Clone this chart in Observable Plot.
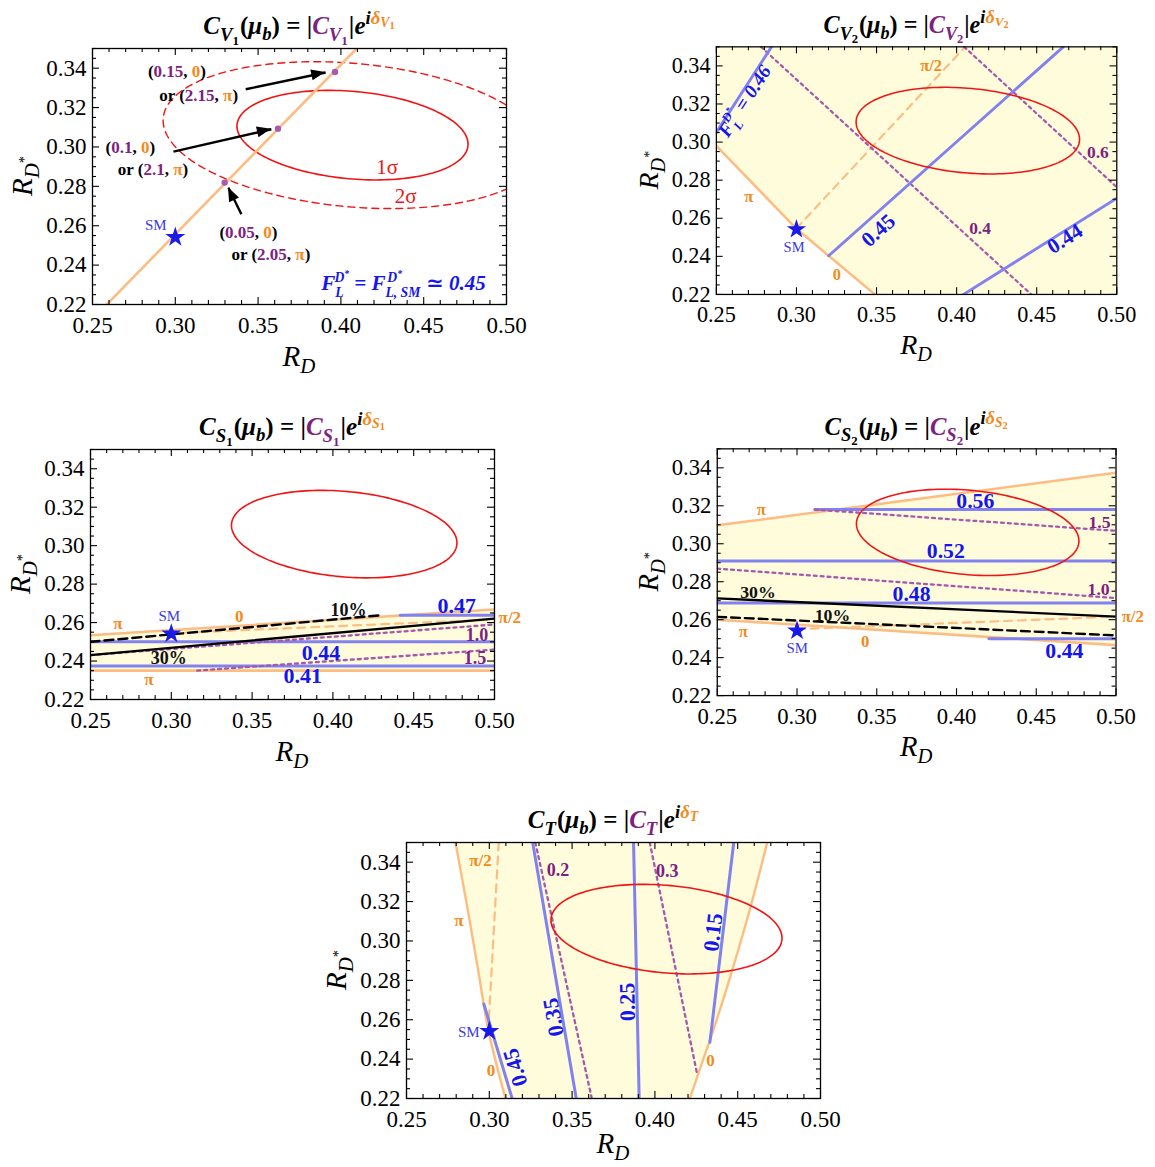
<!DOCTYPE html>
<html><head><meta charset="utf-8">
<script src="https://cdn.jsdelivr.net/npm/d3@7"></script>
<script src="https://cdn.jsdelivr.net/npm/@observablehq/plot@0.6"></script>
<style>
html,body{margin:0;padding:0;background:#fff;width:1155px;height:1167px;overflow:hidden;}
#root{position:relative;width:1155px;height:1167px;overflow:hidden;font-family:'Liberation Serif','DejaVu Serif',serif;}
.panel{position:absolute;}
.panel svg text{font-family:'Liberation Serif','DejaVu Serif',serif;}
</style></head><body><div id="root"></div>
<script>
// ---------- axes ----------
const xTicks = [0.25, 0.30, 0.35, 0.40, 0.45, 0.50];
const yTicks = [0.22, 0.24, 0.26, 0.28, 0.30, 0.32, 0.34];

// ---------- common data ----------
const smPoint = [{RD: 0.300, RDs: 0.2542}];
const expAvg = [{RD: 0.407, errRD: 0.046, RDs: 0.306, errRDs: 0.015, rho: -0.20}];
const clLevels = [{label: "1σ", dchi2: 2.30}, {label: "2σ", dchi2: 6.18}];

// ---------- C_V1 ----------
const v1Line = [{RD: 0.2586, RDs: 0.22}, {RD: 0.4095, RDs: 0.35}];
const v1Dots = [{RD: 0.3298, RDs: 0.2819}, {RD: 0.3620, RDs: 0.3093}, {RD: 0.3964, RDs: 0.3381}];
const v1Arrows = [
  {x1: 0.3425, y1: 0.3293, x2: 0.3908, y2: 0.3378},
  {x1: 0.2989, y1: 0.2976, x2: 0.3580, y2: 0.3090},
  {x1: 0.3399, y1: 0.2658, x2: 0.3321, y2: 0.2793}
];
const v1Coords = [
  {RD: 0.3013, RDs: 0.3381, pre: "(", mag: "0.15", phase: "0"},
  {RD: 0.3144, RDs: 0.3263, pre: "or (", mag: "2.15", phase: "π"},
  {RD: 0.2731, RDs: 0.2997, pre: "(", mag: "0.1", phase: "0"},
  {RD: 0.2868, RDs: 0.2888, pre: "or (", mag: "2.1", phase: "π"},
  {RD: 0.3445, RDs: 0.2568, pre: "(", mag: "0.05", phase: "0"},
  {RD: 0.3580, RDs: 0.2454, pre: "or (", mag: "2.05", phase: "π"}
];
const v1SigmaLabels = [{RD: 0.4280, RDs: 0.2895, t: "1σ"}, {RD: 0.4391, RDs: 0.2751, t: "2σ"}];
const v1SM = [{RD: 0.2882, RDs: 0.2605}];
const v1FLNote = [{RD: 0.4381, RDs: 0.2305}];

// ---------- C_V2 ----------
const v2Boundary = [{RD: 0.25, RDs: 0.298}, {RD: 0.2999, RDs: 0.2546}, {RD: 0.3201, RDs: 0.2403}, {RD: 0.349, RDs: 0.22}];
const v2Corner = [{RD: 0.50, RDs: 0.22}];
const v2Phase = [{RD: 0.2999, RDs: 0.2546}, {RD: 0.4053, RDs: 0.35}];
const v2FL = [
  {level: "0.46", RD: 0.25, RDs: 0.3051}, {level: "0.46", RD: 0.2844, RDs: 0.35},
  {level: "0.45", RD: 0.3201, RDs: 0.2403}, {level: "0.45", RD: 0.4666, RDs: 0.35},
  {level: "0.44", RD: 0.4043, RDs: 0.22}, {level: "0.44", RD: 0.50, RDs: 0.2705}
];
const v2Mag = [
  {level: "0.4", RD: 0.2778, RDs: 0.35}, {level: "0.4", RD: 0.4466, RDs: 0.22},
  {level: "0.6", RD: 0.4047, RDs: 0.35}, {level: "0.6", RD: 0.50, RDs: 0.2763}
];
const v2PhaseLabels = [{RD: 0.3841, RDs: 0.3403, t: "π/2"}, {RD: 0.2702, RDs: 0.2712, t: "π"}, {RD: 0.3253, RDs: 0.2305, t: "0"}];
const v2MagLabels = [{RD: 0.4146, RDs: 0.2547, t: "0.4"}, {RD: 0.4882, RDs: 0.2946, t: "0.6"}];
const v2FLLabels = [{RD: 0.3511, RDs: 0.2536, level: "0.45"}, {RD: 0.4676, RDs: 0.2492, level: "0.44"}];
const v2FLNote = [{RD: 0.2712, RDs: 0.3225, level: "0.46"}];
const v2SM = [{RD: 0.2985, RDs: 0.2446}];

// ---------- C_S1 ----------
const s1Band = [{RD: 0.25, lo: 0.2350, hi: 0.2534}, {RD: 0.50, lo: 0.2350, hi: 0.2668}];
const s1FL = [
  {level: "0.47", RD: 0.4417, RDs: 0.2638}, {level: "0.47", RD: 0.50, RDs: 0.2638},
  {level: "0.44", RD: 0.25, RDs: 0.2500}, {level: "0.44", RD: 0.50, RDs: 0.2500},
  {level: "0.41", RD: 0.25, RDs: 0.2374}, {level: "0.41", RD: 0.50, RDs: 0.2374}
];
const s1Frac10 = [{RD: 0.25, RDs: 0.2500}, {RD: 0.4293, RDs: 0.2638}];
const s1Frac30 = [{RD: 0.25, RDs: 0.2431}, {RD: 0.50, RDs: 0.2621}];
const s1Mag = [
  {level: "1.0", RD: 0.25, RDs: 0.2431}, {level: "1.0", RD: 0.50, RDs: 0.2590},
  {level: "1.5", RD: 0.316, RDs: 0.2350}, {level: "1.5", RD: 0.50, RDs: 0.2460}
];
const s1Phase = [{RD: 0.300, RDs: 0.2545}, {RD: 0.50, RDs: 0.2616}];
const s1PhaseLabels = [{RD: 0.2669, RDs: 0.2597, t: "π"}, {RD: 0.3421, RDs: 0.2632, t: "0"}, {RD: 0.5095, RDs: 0.2628, t: "π/2"}, {RD: 0.2861, RDs: 0.2302, t: "π"}];
const s1MagLabels = [{RD: 0.4891, RDs: 0.2533, t: "1.0"}, {RD: 0.4880, RDs: 0.2412, t: "1.5"}];
const s1FLLabels = [{RD: 0.4767, RDs: 0.2689, t: "0.47"}, {RD: 0.3926, RDs: 0.2443, t: "0.44"}, {RD: 0.3813, RDs: 0.2320, t: "0.41"}];
const s1FracLabels = [{RD: 0.4097, RDs: 0.2666, t: "10%"}, {RD: 0.2984, RDs: 0.2412, t: "30%"}];
const s1SM = [{RD: 0.2988, RDs: 0.2632}];

// ---------- C_S2 ----------
const s2Band = [{RD: 0.25, lo: 0.2600, hi: 0.3097}, {RD: 0.50, lo: 0.2466, hi: 0.3374}];
const s2FL = [
  {level: "0.56", RD: 0.3112, RDs: 0.3180}, {level: "0.56", RD: 0.50, RDs: 0.3180},
  {level: "0.52", RD: 0.25, RDs: 0.2909}, {level: "0.52", RD: 0.50, RDs: 0.2909},
  {level: "0.48", RD: 0.25, RDs: 0.2688}, {level: "0.48", RD: 0.50, RDs: 0.2688},
  {level: "0.44", RD: 0.4203, RDs: 0.2500}, {level: "0.44", RD: 0.50, RDs: 0.2500}
];
const s2Frac30 = [{RD: 0.25, RDs: 0.2712}, {RD: 0.50, RDs: 0.2616}];
const s2Frac10 = [{RD: 0.25, RDs: 0.2615}, {RD: 0.50, RDs: 0.2517}];
const s2Mag = [
  {level: "1.5", RD: 0.3112, RDs: 0.3180}, {level: "1.5", RD: 0.50, RDs: 0.3068},
  {level: "1.0", RD: 0.25, RDs: 0.2869}, {level: "1.0", RD: 0.50, RDs: 0.2714}
];
const s2Phase = [{RD: 0.300, RDs: 0.2550}, {RD: 0.50, RDs: 0.2616}];
const s2PhaseLabels = [{RD: 0.2776, RDs: 0.3180, t: "π"}, {RD: 0.5105, RDs: 0.2615, t: "π/2"}, {RD: 0.2664, RDs: 0.2535, t: "π"}, {RD: 0.3428, RDs: 0.2484, t: "0"}];
const s2MagLabels = [{RD: 0.4897, RDs: 0.3111, t: "1.5"}, {RD: 0.4891, RDs: 0.2760, t: "1.0"}];
const s2FLLabels = [{RD: 0.4118, RDs: 0.3224, t: "0.56"}, {RD: 0.3933, RDs: 0.2961, t: "0.52"}, {RD: 0.3718, RDs: 0.2734, t: "0.48"}, {RD: 0.4676, RDs: 0.2437, t: "0.44"}];
const s2FracLabels = [{RD: 0.2755, RDs: 0.2745, t: "30%"}, {RD: 0.3222, RDs: 0.2624, t: "10%"}];
const s2SM = [{RD: 0.3001, RDs: 0.2451}];

// ---------- C_T ----------
const tBand = [
  {RDs: 0.35, left: 0.2796, right: 0.4678},
  {RDs: 0.3171, left: 0.2867, right: 0.4577},
  {RDs: 0.284, left: 0.2935, right: 0.4463},
  {RDs: 0.255, left: 0.2993, right: 0.4354},
  {RDs: 0.2358, left: 0.3048, right: 0.4275},
  {RDs: 0.22, left: 0.3098, right: 0.4211}
];
const tPhase = [{RD: 0.3057, RDs: 0.35}, {RD: 0.2997, RDs: 0.2595}];
const tFL = [
  {level: "0.45", RD: 0.2967, RDs: 0.2680}, {level: "0.45", RD: 0.3138, RDs: 0.22},
  {level: "0.35", RD: 0.3262, RDs: 0.35}, {level: "0.35", RD: 0.3525, RDs: 0.22},
  {level: "0.25", RD: 0.3871, RDs: 0.35}, {level: "0.25", RD: 0.3905, RDs: 0.22},
  {level: "0.15", RD: 0.4476, RDs: 0.35}, {level: "0.15", RD: 0.4332, RDs: 0.2485}
];
const tMag = [
  {level: "0.2", RD: 0.3278, RDs: 0.35}, {level: "0.2", RD: 0.3619, RDs: 0.22},
  {level: "0.3", RD: 0.3969, RDs: 0.35}, {level: "0.3", RD: 0.4255, RDs: 0.2324}
];
const tPhaseLabels = [{RD: 0.2947, RDs: 0.3409, t: "π/2"}, {RD: 0.2816, RDs: 0.3104, t: "π"}, {RD: 0.3011, RDs: 0.2341, t: "0"}, {RD: 0.4336, RDs: 0.2392, t: "0"}];
const tMagLabels = [{RD: 0.3415, RDs: 0.3358, t: "0.2"}, {RD: 0.4074, RDs: 0.3355, t: "0.3"}];
const tFLLabels = [{RD: 0.3158, RDs: 0.2358, level: "0.45"}, {RD: 0.3388, RDs: 0.2613, level: "0.35"}, {RD: 0.3835, RDs: 0.2690, level: "0.25"}, {RD: 0.4352, RDs: 0.3044, level: "0.15"}];
const tSM = [{RD: 0.2876, RDs: 0.2536}];

// ---------- styling ----------
const SERIF = "Liberation Serif, DejaVu Serif, serif";
const ORANGE_LINE = "#fdbd82", ORANGE_TXT = "#f38a1a";
const BLUE_LINE = "#8181ef", BLUE_TXT = "#1515ee", SM_TXT = "#3a3ae6", STAR = "#1a1ae8";
const PURPLE_LINE = "#a558ad", PURPLE_TXT = "#7e1f82", PURPLE_DOT = "#a65bb0";
const RED = "#f01515", YELLOW = "#fffcdb";
const M = {l: 95, r: 40, t: 50, b: 75};
const X0 = 0.25, X1 = 0.50, Y0 = 0.22, Y1 = 0.35;

const xMinor = d3.range(25, 51).map(i => i / 100).filter(v => !xTicks.some(t => Math.abs(t - v) < 1e-9));
const yMinor = d3.range(44, 71).map(i => i / 200).filter(v => !yTicks.some(t => Math.abs(t - v) < 1e-9));

function ellipse(dchi2) {
  const e = expAvg[0], s = Math.sqrt(dchi2);
  return d3.range(0, 360, 2).map(a => {
    const t = a * Math.PI / 180;
    return {RD: e.RD + s * e.errRD * Math.cos(t),
            RDs: e.RDs + s * e.errRDs * (e.rho * Math.cos(t) + Math.sqrt(1 - e.rho * e.rho) * Math.sin(t))};
  });
}
function angleOf(lines, level, W, H, flip) {
  const [a, b] = lines.filter(d => d.level === level);
  const dx = (b.RD - a.RD) / (X1 - X0) * W, dy = -(b.RDs - a.RDs) / (Y1 - Y0) * H;
  const ang = Math.atan2(dy, dx) * 180 / Math.PI;
  return flip ? ang - 180 : ang;
}
function rich(sel, x, y, segs, {size = 16, anchor = "middle", rotate = 0, weight = "bold", style = "normal", fill = "#000"} = {}) {
  const t = sel.append("text")
    .attr("transform", `translate(${x},${y}) rotate(${rotate})`)
    .attr("text-anchor", anchor).attr("font-family", SERIF)
    .attr("font-size", size).attr("font-weight", weight).attr("font-style", style).attr("fill", fill)
    .style("white-space", "pre");
  let cur = 0;
  for (const [txt, o = {}] of segs) {
    const off = (o.off ?? 0) * size;
    const sp = t.append("tspan").attr("dy", off - cur).text(txt);
    cur = off;
    if (o.dx) sp.attr("dx", o.dx);
    if (o.scale) sp.attr("font-size", size * o.scale);
    if (o.style) sp.attr("font-style", o.style);
    if (o.weight) sp.attr("font-weight", o.weight);
    if (o.fill) sp.attr("fill", o.fill);
  }
  return t;
}
function titleSegs(L, sub) {
  const it = {style: "italic"};
  const s = [["C", it], [L, {off: 0.28, scale: 0.75, style: "italic"}]];
  if (sub) s.push([sub, {off: 0.42, scale: 0.52}]);
  s.push(["(", {dx: 1}], ["μ", it], ["b", {off: 0.25, scale: 0.75, style: "italic"}], [") = |", {}],
         ["C", {style: "italic", fill: PURPLE_TXT}], [L, {off: 0.28, scale: 0.75, style: "italic", fill: PURPLE_TXT}]);
  if (sub) s.push([sub, {off: 0.42, scale: 0.52, fill: PURPLE_TXT}]);
  s.push(["|", {dx: 1}], ["e", it], ["i", {off: -0.42, scale: 0.75, style: "italic"}],
         ["δ", {off: -0.42, scale: 0.75, style: "italic", fill: ORANGE_TXT}],
         [L, {off: -0.3, scale: 0.55, style: "italic", fill: ORANGE_TXT}]);
  if (sub) s.push([sub, {off: -0.22, scale: 0.42, fill: ORANGE_TXT}]);
  return s;
}
const FLsegs = (k) => [["F", {}], ["L", {off: 0.3, scale: 0.65}], ["D", {off: -0.42, scale: 0.65, dx: -8 * k}], ["*", {off: -0.62, scale: 0.45}]];

function frameTicks(W, H) {
  const k = {stroke: "#000", strokeWidth: 1.1};
  return [
    Plot.tickX(xTicks, {x: d => d, insetTop: H - 7, ...k}),
    Plot.tickX(xTicks, {x: d => d, insetBottom: H - 7, ...k}),
    Plot.tickX(xMinor, {x: d => d, insetTop: H - 4, ...k}),
    Plot.tickX(xMinor, {x: d => d, insetBottom: H - 4, ...k}),
    Plot.tickY(yTicks, {y: d => d, insetRight: W - 7, ...k}),
    Plot.tickY(yTicks, {y: d => d, insetLeft: W - 7, ...k}),
    Plot.tickY(yMinor, {y: d => d, insetRight: W - 4, ...k}),
    Plot.tickY(yMinor, {y: d => d, insetLeft: W - 4, ...k}),
    Plot.frame({stroke: "#000", strokeWidth: 1.3}),
    Plot.axisX(xTicks, {tickSize: 0, tickPadding: 12, tickFormat: d3.format(".2f"), fontSize: 23, fontFamily: SERIF, label: null}),
    Plot.axisY(yTicks, {tickSize: 0, tickPadding: 6, tickFormat: d3.format(".2f"), fontSize: 23, fontFamily: SERIF, label: null})
  ];
}
const lineOpts = {x: "RD", y: "RDs", clip: true};
const TXT = {x: "RD", y: "RDs", fontFamily: SERIF};
const ell1 = () => Plot.line(ellipse(clLevels[0].dchi2), {...lineOpts, stroke: RED, strokeWidth: 1.6, curve: "linear-closed"});
const star = (data) => Plot.dot(data, {x: "RD", y: "RDs", symbol: "star", r: 6.3, fill: STAR, stroke: "none"});
const smText = (data) => Plot.text(data, {...TXT, text: () => "SM", fill: SM_TXT, fontSize: 15});
const phaseText = (data) => Plot.text(data, {...TXT, text: "t", fill: ORANGE_TXT, fontSize: 17, fontWeight: "bold"});
const magText = (data) => Plot.text(data, {...TXT, text: "t", fill: PURPLE_TXT, fontSize: 18, fontWeight: "bold"});
const flText = (data, extra = {}) => Plot.text(data, {...TXT, text: "t", fill: BLUE_TXT, fontSize: 22, fontWeight: "bold", ...extra});
const fracText = (data) => Plot.text(data, {...TXT, text: "t", fill: "#111", fontSize: 18, fontWeight: "bold"});
const magLine = (data) => Plot.line(data, {...lineOpts, z: "level", stroke: PURPLE_LINE, strokeWidth: 2.3, strokeDasharray: "3,4"});
const flLine = (data) => Plot.line(data, {...lineOpts, z: "level", stroke: BLUE_LINE, strokeWidth: 3});
const phaseDash = (data) => Plot.line(data, {...lineOpts, stroke: ORANGE_LINE, strokeWidth: 2.2, strokeDasharray: "8,6"});

const root = document.getElementById("root");
function build(p) {
  const {W, H} = p;
  const plot = Plot.plot({
    width: M.l + W + M.r, height: M.t + H + M.b,
    marginLeft: M.l, marginRight: M.r, marginTop: M.t, marginBottom: M.b,
    x: {domain: [X0, X1], axis: null}, y: {domain: [Y0, Y1], axis: null},
    style: {fontFamily: SERIF, background: "transparent", overflow: "visible", color: "#000"},
    marks: [...p.marks, ...frameTicks(W, H)]
  });
  const svg = d3.select(plot);
  const X = plot.scale("x"), Y = plot.scale("y");
  const g = svg.append("g");
  rich(g, M.l + W / 2, M.t - 14, titleSegs(p.L, p.sub), {size: 25, style: "normal"});
  rich(g, M.l + W / 2, M.t + H + (p.xLabelDy ?? 62), [["R", {style: "italic"}], ["D", {off: 0.25, scale: 0.72, style: "italic"}]], {size: 29, weight: "normal"});
  rich(g, M.l - 60, M.t + H / 2, [["R", {style: "italic"}], ["D", {off: 0.25, scale: 0.72, style: "italic"}], ["*", {off: -0.12, scale: 0.5}]], {size: 29, weight: "normal", rotate: -90});
  if (p.extra) p.extra(g, X, Y, W, H);
  const div = document.createElement("div");
  div.className = "panel";
  div.style.left = (p.fx - M.l) + "px";
  div.style.top = (p.fy - M.t) + "px";
  div.appendChild(plot);
  root.appendChild(div);
}

// Panel 1: C_V1
build({
  W: 414, H: 256, fx: 92, fy: 47.5, L: "V", sub: "1",
  marks: [
    Plot.line(ellipse(clLevels[1].dchi2), {...lineOpts, stroke: RED, strokeWidth: 1.4, strokeDasharray: "7,5", curve: "linear-closed"}),
    ell1(),
    Plot.line(v1Line, {...lineOpts, stroke: ORANGE_LINE, strokeWidth: 2.6}),
    Plot.link(v1Arrows, {x1: "x1", y1: "y1", x2: "x2", y2: "y2", stroke: "#000", strokeWidth: 2.4}),
    Plot.dot(v1Dots, {x: "RD", y: "RDs", r: 3.2, fill: PURPLE_DOT, stroke: "none"}),
    star(smPoint), smText(v1SM),
    Plot.text(v1SigmaLabels, {...TXT, text: "t", fill: RED, fontSize: 21})
  ],
  extra: (g, X, Y) => {
    // filled arrow heads, positioned through the plot's scales
    for (const a of v1Arrows) {
      const px1 = X.apply(a.x1), py1 = Y.apply(a.y1), px2 = X.apply(a.x2), py2 = Y.apply(a.y2);
      const ang = Math.atan2(py2 - py1, px2 - px1), L = 14, Wd = 5.5;
      const bx = px2 - L * Math.cos(ang), by = py2 - L * Math.sin(ang);
      const nx = -Math.sin(ang) * Wd, ny = Math.cos(ang) * Wd;
      g.append("path").attr("d", `M${px2},${py2}L${bx + nx},${by + ny}L${bx - nx},${by - ny}Z`).attr("fill", "#000");
    }
    for (const c of v1Coords) {
      rich(g, X.apply(c.RD), Y.apply(c.RDs) + 6, [[c.pre, {}], [c.mag, {fill: PURPLE_TXT}], [", ", {}], [c.phase, {fill: ORANGE_TXT}], [")", {}]], {size: 17});
    }
    const n = v1FLNote[0];
    rich(g, X.apply(n.RD), Y.apply(n.RDs) + 7, [...FLsegs(1.15), [" = F", {}], ["L, SM", {off: 0.3, scale: 0.65}], ["D", {off: -0.42, scale: 0.65, dx: -33}], ["*", {off: -0.62, scale: 0.45}], [" ≃ 0.45", {dx: 19}]], {size: 21, style: "italic", fill: BLUE_TXT});
  }
});

// Panel 2: C_V2
build({
  W: 414, H: 256, fx: 719, fy: 47.5, L: "V", sub: "2",
  marks: [
    Plot.areaY([...v2Boundary, ...v2Corner], {x: "RD", y1: "RDs", y2: () => Y1, fill: YELLOW}),
    Plot.line(v2Boundary, {...lineOpts, stroke: ORANGE_LINE, strokeWidth: 2.6}),
    phaseDash(v2Phase),
    magLine(v2Mag),
    flLine(v2FL),
    ell1(),
    star(smPoint), smText(v2SM),
    phaseText(v2PhaseLabels), magText(v2MagLabels),
    flText(v2FLLabels, {text: "level", rotate: d => angleOf(v2FL, d.level, 414, 256, false)})
  ],
  extra: (g, X, Y, W, H) => {
    const n = v2FLNote[0];
    rich(g, X.apply(n.RD), Y.apply(n.RDs) + 6, [...FLsegs(1), [" = 0.46", {}]], {size: 20, style: "italic", fill: BLUE_TXT, rotate: angleOf(v2FL, n.level, W, H, false)});
  }
});

// Panel 3: C_S1
build({
  W: 404, H: 250, fx: 90, fy: 449, L: "S", sub: "1",
  marks: [
    Plot.areaY(s1Band, {x: "RD", y1: "lo", y2: "hi", fill: YELLOW}),
    Plot.line(s1Band, {x: "RD", y: "hi", stroke: ORANGE_LINE, strokeWidth: 2.6, clip: true}),
    Plot.line(s1Band, {x: "RD", y: "lo", stroke: ORANGE_LINE, strokeWidth: 2.6, clip: true}),
    flLine(s1FL),
    phaseDash(s1Phase),
    magLine(s1Mag),
    Plot.line(s1Frac30, {...lineOpts, stroke: "#000", strokeWidth: 2.4}),
    Plot.line(s1Frac10, {...lineOpts, stroke: "#000", strokeWidth: 2.4, strokeDasharray: "9,5"}),
    ell1(),
    star(smPoint), smText(s1SM),
    phaseText(s1PhaseLabels), magText(s1MagLabels), flText(s1FLLabels), fracText(s1FracLabels)
  ]
});

// Panel 4: C_S2
build({
  W: 404, H: 250, fx: 718, fy: 449, L: "S", sub: "2",
  marks: [
    Plot.areaY(s2Band, {x: "RD", y1: "lo", y2: "hi", fill: YELLOW}),
    Plot.line(s2Band, {x: "RD", y: "hi", stroke: ORANGE_LINE, strokeWidth: 2.6, clip: true}),
    Plot.line(s2Band, {x: "RD", y: "lo", stroke: ORANGE_LINE, strokeWidth: 2.6, clip: true}),
    flLine(s2FL),
    phaseDash(s2Phase),
    magLine(s2Mag),
    Plot.line(s2Frac30, {...lineOpts, stroke: "#000", strokeWidth: 2.4}),
    Plot.line(s2Frac10, {...lineOpts, stroke: "#000", strokeWidth: 2.4, strokeDasharray: "9,5"}),
    ell1(),
    star(smPoint), smText(s2SM),
    phaseText(s2PhaseLabels), magText(s2MagLabels), flText(s2FLLabels), fracText(s2FracLabels)
  ]
});

// Panel 5: C_T
build({
  W: 414, H: 256, fx: 406, fy: 842, L: "T", sub: "", xLabelDy: 55,
  marks: [
    Plot.areaX(tBand, {y: "RDs", x1: "left", x2: "right", fill: YELLOW, curve: "catmull-rom"}),
    Plot.line(tBand, {x: "left", y: "RDs", stroke: ORANGE_LINE, strokeWidth: 2.4, curve: "catmull-rom", clip: true}),
    Plot.line(tBand, {x: "right", y: "RDs", stroke: ORANGE_LINE, strokeWidth: 2.4, curve: "catmull-rom", clip: true}),
    phaseDash(tPhase),
    magLine(tMag),
    flLine(tFL),
    ell1(),
    star(smPoint), smText(tSM),
    phaseText(tPhaseLabels), magText(tMagLabels),
    flText(tFLLabels, {text: "level", rotate: d => angleOf(tFL, d.level, 414, 256, true)})
  ]
});
</script></body></html>
